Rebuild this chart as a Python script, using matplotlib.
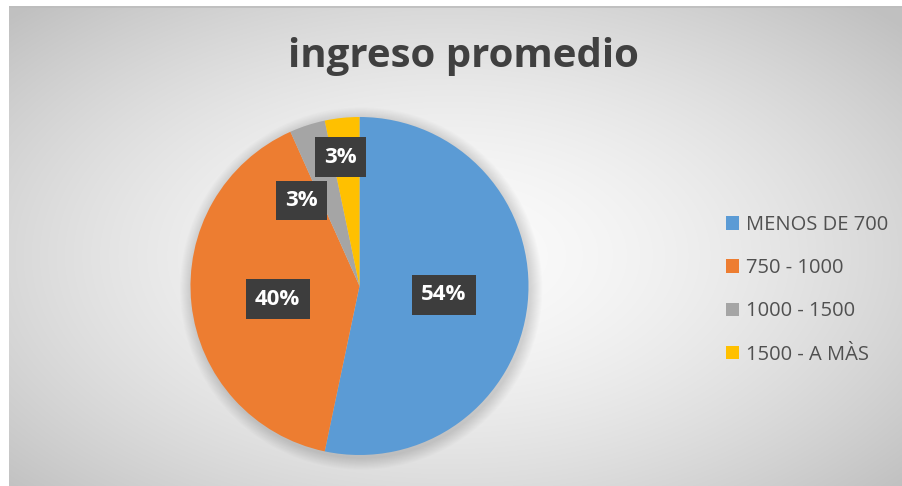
import numpy as np
import matplotlib
matplotlib.use("Agg")
import matplotlib.pyplot as plt

# ---- data ----
categories = ["MENOS DE 700", "750 - 1000", "1000 - 1500", "1500 - A MÀS"]
values = [53.3, 40.0, 3.4, 3.3]
pct_labels = ["54%", "40%", "3%", "3%"]
title = "ingreso promedio"

# ---- style ----
colors = ["#5B9BD5", "#ED7D31", "#A5A5A5", "#FFC000"]
label_radius = [0.50, 0.49, 0.61, 0.77]
label_shift_deg = [0.0, 3.0, 16.0, 2.5]

W, H = 903, 486
fig = plt.figure(figsize=(W / 100, H / 100), dpi=100)
fig.patch.set_facecolor("white")

# background gradient panel
bg = fig.add_axes([9 / W, 0, 1 - 9 / W, 1 - 6 / H])
bg.set_axis_off()
yy, xx = np.mgrid[0:480, 0:894]
cx, cy = 440, 250
d = np.sqrt(((xx - cx) / 894) ** 2 + ((yy - cy) / 480) ** 2 * 0.9)
g = 0.985 - 0.23 * np.clip(d / 0.68, 0, 1) ** 1.6
bg.imshow(np.dstack([g, g, g]), aspect="auto", extent=[0, 1, 0, 1], origin="upper")
bg.set_xlim(0, 1)
bg.set_ylim(0, 1)
bg.plot([0, 1], [0.997, 0.997], color="#bdbdbd", lw=1.2, transform=bg.transAxes)

# pie axes
pcx, pcy, r = 359.5, 286, 169
ax = fig.add_axes([(pcx - r) / W, (H - pcy - r) / H, 2 * r / W, 2 * r / H])
ax.set_xlim(-1, 1)
ax.set_ylim(-1, 1)
ax.set_axis_off()
ax.patch.set_alpha(0)

# soft shadow
for i in range(12):
    c = plt.Circle((0.01, -0.015), 1.0 + 0.006 * (12 - i), color="black",
                   alpha=0.012, lw=0, zorder=0)
    c.set_clip_on(False)
    ax.add_patch(c)

wedges, _ = ax.pie(values, colors=colors, startangle=90, counterclock=False,
                   radius=1.0, wedgeprops=dict(linewidth=0), frame=False)
ax.set_xlim(-1, 1)
ax.set_ylim(-1, 1)

for w, lab, rr, sh in zip(wedges, pct_labels, label_radius, label_shift_deg):
    mid = np.deg2rad((w.theta1 + w.theta2) / 2 + sh)
    ax.text(rr * np.cos(mid), rr * np.sin(mid), lab, ha="center", va="center",
            color="white", fontsize=16, fontweight="bold", family="Open Sans",
            bbox=dict(boxstyle="square,pad=0.42", fc="#3d3d3d", ec="none"), zorder=5)

fig.text(463 / W, 1 - 57 / H, title, ha="center", va="center", fontsize=29,
         fontweight="bold", color="#404040", family="Open Sans")

leg = fig.legend(wedges, categories, loc="upper left",
                 bbox_to_anchor=(718 / W, 1 - 207 / H), frameon=False,
                 prop=dict(family="Open Sans", size=14.5),
                 handlelength=0.65, handleheight=0.65, handletextpad=0.35,
                 labelspacing=1.15, borderaxespad=0)
for t in leg.get_texts():
    t.set_color("#505050")

fig.savefig("out.png", dpi=100)
